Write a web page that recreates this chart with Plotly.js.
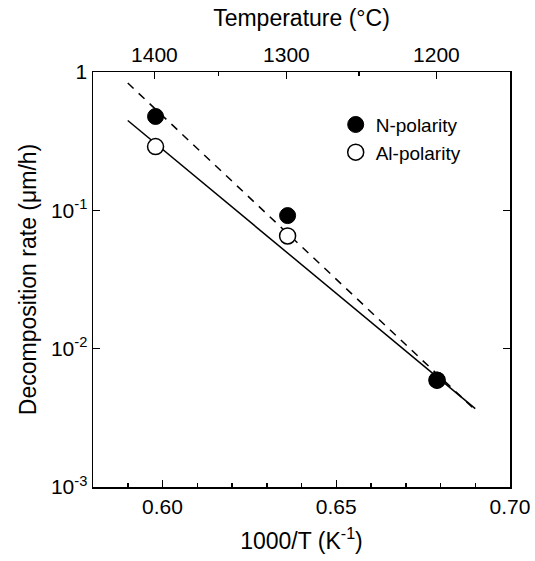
<!DOCTYPE html>
<html>
<head>
<meta charset="utf-8">
<script src="https://cdn.plot.ly/plotly-3.0.1.min.js"></script>
<style>html,body{margin:0;padding:0;background:#fff;}#chart{width:535px;height:561px;}</style>
</head>
<body>
<div id="chart"></div>
<script>
// Data
const invT = [0.598, 0.636, 0.679];              // 1000/T (K^-1)
const nPolarity = [0.477, 0.0916, 0.00592];       // µm/h
const alPolarity = [0.289, 0.0653, 0.00592];      // µm/h
const fitX = [0.59, 0.69];
const fitN = [0.832, 0.0036];                     // dashed fit (N-polarity)
const fitAl = [0.446, 0.00369];                   // solid fit (Al-polarity)
const tempMajor = [1400, 1300, 1200];             // °C
const tempMinor = [1350, 1250];                   // °C
const yTickVals = [0.001, 0.01, 0.1, 1];
const yTickText = ['10<sup>-3</sup>', '10<sup>-2</sup>', '10<sup>-1</sup>', '1'];

const toInv = t => 1000 / (t + 273.15);
const FONT = 'Liberation Sans, Arial, Helvetica, sans-serif';

const traces = [
  {x: fitX, y: fitN, mode: 'lines', line: {color: '#000', width: 1.5, dash: '8px,7px'}, showlegend: false, hoverinfo: 'skip'},
  {x: fitX, y: fitAl, mode: 'lines', line: {color: '#000', width: 1.5}, showlegend: false, hoverinfo: 'skip'},
  {x: invT, y: alPolarity, mode: 'markers', name: 'Al-polarity',
   marker: {symbol: 'circle', size: 16, color: '#fff', line: {color: '#000', width: 1.5}}, showlegend: false},
  {x: invT, y: nPolarity, mode: 'markers', name: 'N-polarity',
   marker: {symbol: 'circle', size: 16, color: '#000', line: {color: '#000', width: 1}}},
  {x: [null], y: [null], mode: 'markers', name: 'Al-polarity',
   marker: {symbol: 'circle', size: 16, color: '#fff', line: {color: '#000', width: 1.5}}}
];

const layout = {
  width: 535, height: 561,
  margin: {l: 93, r: 25, t: 72, b: 74},
  paper_bgcolor: '#fff', plot_bgcolor: '#fff',
  font: {family: FONT, color: '#000', size: 21},
  showlegend: true,
  legend: {x: 0.582, y: 0.919, xanchor: 'left', yanchor: 'top', bgcolor: 'rgba(0,0,0,0)',
           font: {family: FONT, size: 19, color: '#000'}, traceorder: 'normal'},
  xaxis: {
    range: [0.58, 0.70], dtick: 0.05, tick0: 0.6, tickformat: '.2f',
    ticks: 'inside', ticklen: 7, tickwidth: 1.5, tickcolor: '#000',
    minor: {dtick: 0.01, tick0: 0.6, ticks: 'inside', ticklen: 4, tickwidth: 1.5, tickcolor: '#000'},
    showline: true, linecolor: '#000', linewidth: 1.5, mirror: true,
    showgrid: false, zeroline: false,
    tickfont: {size: 21},
    title: {text: '1000/T (K<sup>-1</sup>)', font: {size: 23}, standoff: 16}
  },
  xaxis2: {
    overlaying: 'x', side: 'top', range: [0.58, 0.70],
    tickmode: 'array', tickvals: tempMajor.map(toInv), ticktext: tempMajor.map(String),
    ticks: 'inside', ticklen: 7, tickwidth: 1.5, tickcolor: '#000',
    showline: true, linecolor: '#000', linewidth: 1.5,
    showgrid: false, zeroline: false, tickfont: {size: 21},
    title: {text: 'Temperature (°C)', font: {size: 23}, standoff: 10}
  },
  xaxis3: {
    overlaying: 'x', side: 'top', range: [0.58, 0.70],
    tickmode: 'array', tickvals: tempMinor.map(toInv), ticktext: tempMinor.map(String),
    ticks: 'inside', ticklen: 4, tickwidth: 1.5, tickcolor: '#000',
    showline: false, showgrid: false, zeroline: false, showticklabels: false
  },
  yaxis: {
    type: 'log', range: [-3, 0],
    tickmode: 'array', tickvals: yTickVals, ticktext: yTickText,
    ticks: 'inside', ticklen: 7, tickwidth: 1.5, tickcolor: '#000',
    showline: true, linecolor: '#000', linewidth: 1.5, mirror: 'ticks',
    showgrid: false, zeroline: false, tickfont: {size: 21},
    title: {text: 'Decomposition rate (μm/h)', font: {size: 23}, standoff: 8}
  }
};

// dummy traces to activate top axes
traces.push({x: [0.6], y: [null], xaxis: 'x2', yaxis: 'y', showlegend: false, hoverinfo: 'skip', mode: 'markers'});
traces.push({x: [0.6], y: [null], xaxis: 'x3', yaxis: 'y', showlegend: false, hoverinfo: 'skip', mode: 'markers'});

Plotly.newPlot('chart', traces, layout, {displayModeBar: false, staticPlot: true});
</script>
</body>
</html>
